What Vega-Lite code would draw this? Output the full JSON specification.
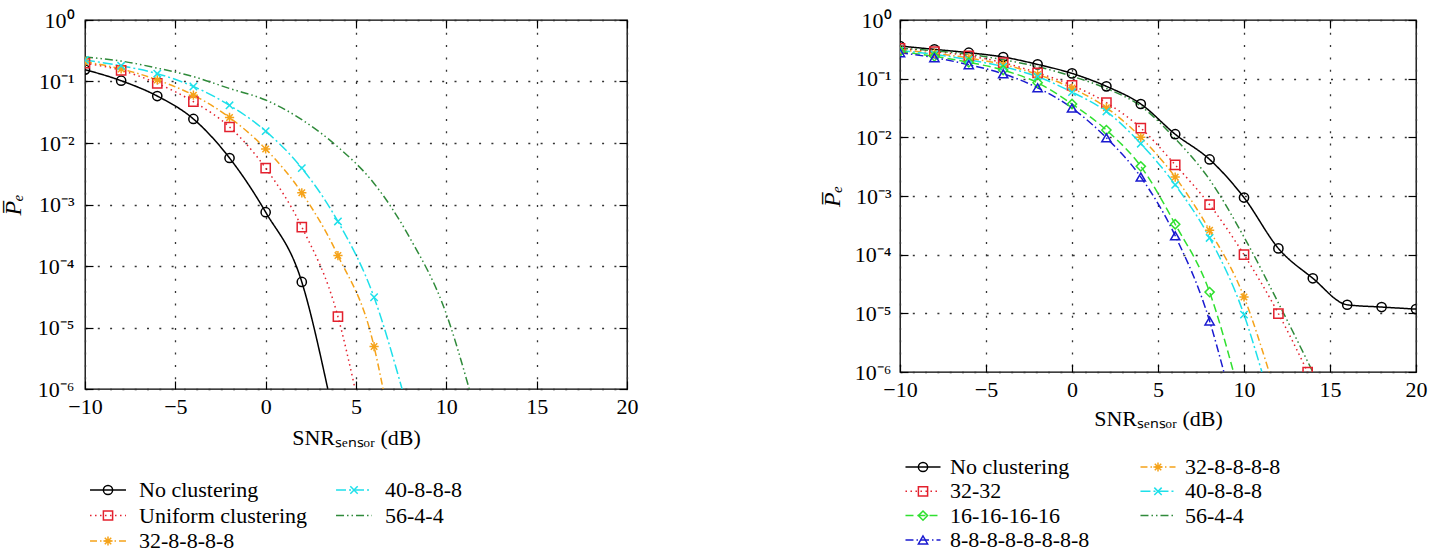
{
  "$schema": "https://vega.github.io/schema/vega-lite/v6.json",
  "background": "white",
  "padding": {"left": 0, "top": 8, "right": 5, "bottom": 0},
  "config": {"font": "Liberation Serif", "axis": {"labelFont": "Liberation Serif", "titleFont": "Liberation Serif", "labelFlush": false}, "legend": {"labelFont": "Liberation Serif"}, "view": {"stroke": "black", "strokeWidth": 1.3}},
  "datasets": {
    "lc": [
      {"series": "No clustering", "snr": -10, "pe": 0.156}, {"series": "No clustering", "snr": -8, "pe": 0.103}, {"series": "No clustering", "snr": -6, "pe": 0.058}, {"series": "No clustering", "snr": -4, "pe": 0.0246}, {"series": "No clustering", "snr": -2, "pe": 0.0057}, {"series": "No clustering", "snr": 0, "pe": 0.00075}, {"series": "No clustering", "snr": 2, "pe": 0.000055}, {"series": "No clustering", "snr": 3.44, "pe": 0.000001},
      {"series": "Uniform clustering", "snr": -10, "pe": 0.198}, {"series": "Uniform clustering", "snr": -8, "pe": 0.152}, {"series": "Uniform clustering", "snr": -6, "pe": 0.093}, {"series": "Uniform clustering", "snr": -4, "pe": 0.047}, {"series": "Uniform clustering", "snr": -2, "pe": 0.0182}, {"series": "Uniform clustering", "snr": 0, "pe": 0.0039}, {"series": "Uniform clustering", "snr": 2, "pe": 0.00043}, {"series": "Uniform clustering", "snr": 4, "pe": 0.000015}, {"series": "Uniform clustering", "snr": 4.95, "pe": 0.000001},
      {"series": "32-8-8-8-8", "snr": -10, "pe": 0.21}, {"series": "32-8-8-8-8", "snr": -8, "pe": 0.16}, {"series": "32-8-8-8-8", "snr": -6, "pe": 0.106}, {"series": "32-8-8-8-8", "snr": -4, "pe": 0.06}, {"series": "32-8-8-8-8", "snr": -2, "pe": 0.026}, {"series": "32-8-8-8-8", "snr": 0, "pe": 0.008}, {"series": "32-8-8-8-8", "snr": 2, "pe": 0.00155}, {"series": "32-8-8-8-8", "snr": 4, "pe": 0.000148}, {"series": "32-8-8-8-8", "snr": 6, "pe": 0.0000049}, {"series": "32-8-8-8-8", "snr": 6.5, "pe": 0.000001},
      {"series": "40-8-8-8", "snr": -10, "pe": 0.224}, {"series": "40-8-8-8", "snr": -8, "pe": 0.18}, {"series": "40-8-8-8", "snr": -6, "pe": 0.134}, {"series": "40-8-8-8", "snr": -4, "pe": 0.083}, {"series": "40-8-8-8", "snr": -2, "pe": 0.041}, {"series": "40-8-8-8", "snr": 0, "pe": 0.0156}, {"series": "40-8-8-8", "snr": 2, "pe": 0.0039}, {"series": "40-8-8-8", "snr": 4, "pe": 0.00053}, {"series": "40-8-8-8", "snr": 6, "pe": 0.000031}, {"series": "40-8-8-8", "snr": 7.55, "pe": 0.000001},
      {"series": "56-4-4", "snr": -10, "pe": 0.25}, {"series": "56-4-4", "snr": -8, "pe": 0.215}, {"series": "56-4-4", "snr": -6, "pe": 0.165}, {"series": "56-4-4", "snr": -4, "pe": 0.12}, {"series": "56-4-4", "snr": -2, "pe": 0.077}, {"series": "56-4-4", "snr": 0, "pe": 0.05}, {"series": "56-4-4", "snr": 2, "pe": 0.024}, {"series": "56-4-4", "snr": 4, "pe": 0.0086}, {"series": "56-4-4", "snr": 6, "pe": 0.0022}, {"series": "56-4-4", "snr": 8, "pe": 0.00028}, {"series": "56-4-4", "snr": 10, "pe": 0.0000166}, {"series": "56-4-4", "snr": 11.27, "pe": 0.000001}
    ],
    "lm": [
      {"series": "No clustering", "snr": -10, "pe": 0.156}, {"series": "No clustering", "snr": -8, "pe": 0.103}, {"series": "No clustering", "snr": -6, "pe": 0.058}, {"series": "No clustering", "snr": -4, "pe": 0.0246}, {"series": "No clustering", "snr": -2, "pe": 0.0057}, {"series": "No clustering", "snr": 0, "pe": 0.00075}, {"series": "No clustering", "snr": 2, "pe": 0.000055},
      {"series": "Uniform clustering", "snr": -10, "pe": 0.198}, {"series": "Uniform clustering", "snr": -8, "pe": 0.152}, {"series": "Uniform clustering", "snr": -6, "pe": 0.093}, {"series": "Uniform clustering", "snr": -4, "pe": 0.047}, {"series": "Uniform clustering", "snr": -2, "pe": 0.0182}, {"series": "Uniform clustering", "snr": 0, "pe": 0.0039}, {"series": "Uniform clustering", "snr": 2, "pe": 0.00043}, {"series": "Uniform clustering", "snr": 4, "pe": 0.000015},
      {"series": "32-8-8-8-8", "snr": -10, "pe": 0.21}, {"series": "32-8-8-8-8", "snr": -8, "pe": 0.16}, {"series": "32-8-8-8-8", "snr": -6, "pe": 0.106}, {"series": "32-8-8-8-8", "snr": -4, "pe": 0.06}, {"series": "32-8-8-8-8", "snr": -2, "pe": 0.026}, {"series": "32-8-8-8-8", "snr": 0, "pe": 0.008}, {"series": "32-8-8-8-8", "snr": 2, "pe": 0.00155}, {"series": "32-8-8-8-8", "snr": 4, "pe": 0.000148}, {"series": "32-8-8-8-8", "snr": 6, "pe": 0.0000049},
      {"series": "40-8-8-8", "snr": -10, "pe": 0.224}, {"series": "40-8-8-8", "snr": -8, "pe": 0.18}, {"series": "40-8-8-8", "snr": -6, "pe": 0.134}, {"series": "40-8-8-8", "snr": -4, "pe": 0.083}, {"series": "40-8-8-8", "snr": -2, "pe": 0.041}, {"series": "40-8-8-8", "snr": 0, "pe": 0.0156}, {"series": "40-8-8-8", "snr": 2, "pe": 0.0039}, {"series": "40-8-8-8", "snr": 4, "pe": 0.00053}, {"series": "40-8-8-8", "snr": 6, "pe": 0.000031}
    ],
    "rc": [
      {"series": "No clustering", "snr": -10, "pe": 0.36}, {"series": "No clustering", "snr": -8, "pe": 0.316}, {"series": "No clustering", "snr": -6, "pe": 0.277}, {"series": "No clustering", "snr": -4, "pe": 0.234}, {"series": "No clustering", "snr": -2, "pe": 0.175}, {"series": "No clustering", "snr": 0, "pe": 0.123}, {"series": "No clustering", "snr": 2, "pe": 0.074}, {"series": "No clustering", "snr": 4, "pe": 0.037}, {"series": "No clustering", "snr": 6, "pe": 0.0113}, {"series": "No clustering", "snr": 8, "pe": 0.0042}, {"series": "No clustering", "snr": 10, "pe": 0.00094}, {"series": "No clustering", "snr": 12, "pe": 0.000128}, {"series": "No clustering", "snr": 14, "pe": 0.0000396}, {"series": "No clustering", "snr": 16, "pe": 0.000014}, {"series": "No clustering", "snr": 18, "pe": 0.0000128}, {"series": "No clustering", "snr": 20, "pe": 0.0000118},
      {"series": "32-32", "snr": -10, "pe": 0.33}, {"series": "32-32", "snr": -8, "pe": 0.29}, {"series": "32-32", "snr": -6, "pe": 0.245}, {"series": "32-32", "snr": -4, "pe": 0.187}, {"series": "32-32", "snr": -2, "pe": 0.126}, {"series": "32-32", "snr": 0, "pe": 0.077}, {"series": "32-32", "snr": 2, "pe": 0.039}, {"series": "32-32", "snr": 4, "pe": 0.0144}, {"series": "32-32", "snr": 6, "pe": 0.0034}, {"series": "32-32", "snr": 8, "pe": 0.00071}, {"series": "32-32", "snr": 10, "pe": 0.0001}, {"series": "32-32", "snr": 12, "pe": 0.0000099}, {"series": "32-32", "snr": 13.7, "pe": 0.000001},
      {"series": "32-8-8-8-8", "snr": -10, "pe": 0.31}, {"series": "32-8-8-8-8", "snr": -8, "pe": 0.27}, {"series": "32-8-8-8-8", "snr": -6, "pe": 0.225}, {"series": "32-8-8-8-8", "snr": -4, "pe": 0.175}, {"series": "32-8-8-8-8", "snr": -2, "pe": 0.118}, {"series": "32-8-8-8-8", "snr": 0, "pe": 0.069}, {"series": "32-8-8-8-8", "snr": 2, "pe": 0.032}, {"series": "32-8-8-8-8", "snr": 4, "pe": 0.01}, {"series": "32-8-8-8-8", "snr": 6, "pe": 0.0021}, {"series": "32-8-8-8-8", "snr": 8, "pe": 0.00026}, {"series": "32-8-8-8-8", "snr": 10, "pe": 0.000019}, {"series": "32-8-8-8-8", "snr": 11.46, "pe": 0.000001},
      {"series": "40-8-8-8", "snr": -10, "pe": 0.3}, {"series": "40-8-8-8", "snr": -8, "pe": 0.26}, {"series": "40-8-8-8", "snr": -6, "pe": 0.21}, {"series": "40-8-8-8", "snr": -4, "pe": 0.16}, {"series": "40-8-8-8", "snr": -2, "pe": 0.108}, {"series": "40-8-8-8", "snr": 0, "pe": 0.059}, {"series": "40-8-8-8", "snr": 2, "pe": 0.0276}, {"series": "40-8-8-8", "snr": 4, "pe": 0.0078}, {"series": "40-8-8-8", "snr": 6, "pe": 0.00155}, {"series": "40-8-8-8", "snr": 8, "pe": 0.000193}, {"series": "40-8-8-8", "snr": 10, "pe": 0.0000095}, {"series": "40-8-8-8", "snr": 11.04, "pe": 0.000001},
      {"series": "16-16-16-16", "snr": -10, "pe": 0.29}, {"series": "16-16-16-16", "snr": -8, "pe": 0.24}, {"series": "16-16-16-16", "snr": -6, "pe": 0.19}, {"series": "16-16-16-16", "snr": -4, "pe": 0.14}, {"series": "16-16-16-16", "snr": -2, "pe": 0.085}, {"series": "16-16-16-16", "snr": 0, "pe": 0.037}, {"series": "16-16-16-16", "snr": 2, "pe": 0.0133}, {"series": "16-16-16-16", "snr": 4, "pe": 0.0032}, {"series": "16-16-16-16", "snr": 6, "pe": 0.00033}, {"series": "16-16-16-16", "snr": 8, "pe": 0.000023}, {"series": "16-16-16-16", "snr": 9.39, "pe": 0.000001},
      {"series": "8-8-8-8-8-8-8-8", "snr": -10, "pe": 0.277}, {"series": "8-8-8-8-8-8-8-8", "snr": -8, "pe": 0.228}, {"series": "8-8-8-8-8-8-8-8", "snr": -6, "pe": 0.173}, {"series": "8-8-8-8-8-8-8-8", "snr": -4, "pe": 0.121}, {"series": "8-8-8-8-8-8-8-8", "snr": -2, "pe": 0.07}, {"series": "8-8-8-8-8-8-8-8", "snr": 0, "pe": 0.0315}, {"series": "8-8-8-8-8-8-8-8", "snr": 2, "pe": 0.0098}, {"series": "8-8-8-8-8-8-8-8", "snr": 4, "pe": 0.0021}, {"series": "8-8-8-8-8-8-8-8", "snr": 6, "pe": 0.00021}, {"series": "8-8-8-8-8-8-8-8", "snr": 8, "pe": 0.0000074}, {"series": "8-8-8-8-8-8-8-8", "snr": 8.83, "pe": 0.000001},
      {"series": "56-4-4", "snr": -10, "pe": 0.33}, {"series": "56-4-4", "snr": -8, "pe": 0.3}, {"series": "56-4-4", "snr": -6, "pe": 0.26}, {"series": "56-4-4", "snr": -4, "pe": 0.21}, {"series": "56-4-4", "snr": -2, "pe": 0.16}, {"series": "56-4-4", "snr": 0, "pe": 0.11}, {"series": "56-4-4", "snr": 2, "pe": 0.068}, {"series": "56-4-4", "snr": 4, "pe": 0.034}, {"series": "56-4-4", "snr": 6, "pe": 0.0095}, {"series": "56-4-4", "snr": 8, "pe": 0.0019}, {"series": "56-4-4", "snr": 10, "pe": 0.0002}, {"series": "56-4-4", "snr": 12, "pe": 0.000015}, {"series": "56-4-4", "snr": 14, "pe": 0.000001}
    ],
    "rm": [
      {"series": "No clustering", "snr": -10, "pe": 0.36}, {"series": "No clustering", "snr": -8, "pe": 0.316}, {"series": "No clustering", "snr": -6, "pe": 0.277}, {"series": "No clustering", "snr": -4, "pe": 0.234}, {"series": "No clustering", "snr": -2, "pe": 0.175}, {"series": "No clustering", "snr": 0, "pe": 0.123}, {"series": "No clustering", "snr": 2, "pe": 0.074}, {"series": "No clustering", "snr": 4, "pe": 0.037}, {"series": "No clustering", "snr": 6, "pe": 0.0113}, {"series": "No clustering", "snr": 8, "pe": 0.0042}, {"series": "No clustering", "snr": 10, "pe": 0.00094}, {"series": "No clustering", "snr": 12, "pe": 0.000128}, {"series": "No clustering", "snr": 14, "pe": 0.0000396}, {"series": "No clustering", "snr": 16, "pe": 0.000014}, {"series": "No clustering", "snr": 18, "pe": 0.0000128}, {"series": "No clustering", "snr": 20, "pe": 0.0000118},
      {"series": "32-32", "snr": -10, "pe": 0.33}, {"series": "32-32", "snr": -8, "pe": 0.29}, {"series": "32-32", "snr": -6, "pe": 0.245}, {"series": "32-32", "snr": -4, "pe": 0.187}, {"series": "32-32", "snr": -2, "pe": 0.126}, {"series": "32-32", "snr": 0, "pe": 0.077}, {"series": "32-32", "snr": 2, "pe": 0.039}, {"series": "32-32", "snr": 4, "pe": 0.0144}, {"series": "32-32", "snr": 6, "pe": 0.0034}, {"series": "32-32", "snr": 8, "pe": 0.00071}, {"series": "32-32", "snr": 10, "pe": 0.0001}, {"series": "32-32", "snr": 12, "pe": 0.0000099}, {"series": "32-32", "snr": 13.7, "pe": 0.000001},
      {"series": "32-8-8-8-8", "snr": -10, "pe": 0.31}, {"series": "32-8-8-8-8", "snr": -8, "pe": 0.27}, {"series": "32-8-8-8-8", "snr": -6, "pe": 0.225}, {"series": "32-8-8-8-8", "snr": -4, "pe": 0.175}, {"series": "32-8-8-8-8", "snr": -2, "pe": 0.118}, {"series": "32-8-8-8-8", "snr": 0, "pe": 0.069}, {"series": "32-8-8-8-8", "snr": 2, "pe": 0.032}, {"series": "32-8-8-8-8", "snr": 4, "pe": 0.01}, {"series": "32-8-8-8-8", "snr": 6, "pe": 0.0021}, {"series": "32-8-8-8-8", "snr": 8, "pe": 0.00026}, {"series": "32-8-8-8-8", "snr": 10, "pe": 0.000019},
      {"series": "40-8-8-8", "snr": -10, "pe": 0.3}, {"series": "40-8-8-8", "snr": -8, "pe": 0.26}, {"series": "40-8-8-8", "snr": -6, "pe": 0.21}, {"series": "40-8-8-8", "snr": -4, "pe": 0.16}, {"series": "40-8-8-8", "snr": -2, "pe": 0.108}, {"series": "40-8-8-8", "snr": 0, "pe": 0.059}, {"series": "40-8-8-8", "snr": 2, "pe": 0.0276}, {"series": "40-8-8-8", "snr": 4, "pe": 0.0078}, {"series": "40-8-8-8", "snr": 6, "pe": 0.00155}, {"series": "40-8-8-8", "snr": 8, "pe": 0.000193}, {"series": "40-8-8-8", "snr": 10, "pe": 0.0000095},
      {"series": "16-16-16-16", "snr": -10, "pe": 0.29}, {"series": "16-16-16-16", "snr": -8, "pe": 0.24}, {"series": "16-16-16-16", "snr": -6, "pe": 0.19}, {"series": "16-16-16-16", "snr": -4, "pe": 0.14}, {"series": "16-16-16-16", "snr": -2, "pe": 0.085}, {"series": "16-16-16-16", "snr": 0, "pe": 0.037}, {"series": "16-16-16-16", "snr": 2, "pe": 0.0133}, {"series": "16-16-16-16", "snr": 4, "pe": 0.0032}, {"series": "16-16-16-16", "snr": 6, "pe": 0.00033}, {"series": "16-16-16-16", "snr": 8, "pe": 0.000023},
      {"series": "8-8-8-8-8-8-8-8", "snr": -10, "pe": 0.277}, {"series": "8-8-8-8-8-8-8-8", "snr": -8, "pe": 0.228}, {"series": "8-8-8-8-8-8-8-8", "snr": -6, "pe": 0.173}, {"series": "8-8-8-8-8-8-8-8", "snr": -4, "pe": 0.121}, {"series": "8-8-8-8-8-8-8-8", "snr": -2, "pe": 0.07}, {"series": "8-8-8-8-8-8-8-8", "snr": 0, "pe": 0.0315}, {"series": "8-8-8-8-8-8-8-8", "snr": 2, "pe": 0.0098}, {"series": "8-8-8-8-8-8-8-8", "snr": 4, "pe": 0.0021}, {"series": "8-8-8-8-8-8-8-8", "snr": 6, "pe": 0.00021}, {"series": "8-8-8-8-8-8-8-8", "snr": 8, "pe": 0.0000074}
    ]
  },
  "spacing": 180,
  "resolve": {"scale": {"color": "independent", "shape": "independent", "strokeDash": "independent"}},
  "hconcat": [
    {
      "width": 542,
      "height": 369,
      "resolve": {"scale": {"color": "independent", "shape": "independent", "strokeDash": "independent"}, "axis": {"x": "independent", "y": "independent"}},
      "layer": [
        {
          "data": {"name": "lc"},
          "mark": {"type": "line", "clip": true, "strokeWidth": 1.5, "interpolate": "monotone"},
          "encoding": {
            "x": {"field": "snr", "type": "quantitative", "scale": {"domain": [-10, 20], "nice": false},
              "axis": {"orient": "bottom", "values": [-10, -5, 0, 5, 10, 15, 20], "labelFlush": false, "title": "SNRₛₑₙₛₒᵣ (dB)", "titleFontSize": 22, "titleFontWeight": "normal", "titleColor": "black", "titlePadding": 10, "labelFontSize": 22, "labelColor": "black", "labelPadding": 15, "tickSize": -8, "tickColor": "black", "tickWidth": 1.2, "domain": false, "grid": true, "gridColor": "#333", "gridDash": [2, 10.3], "gridWidth": 1.3}},
            "y": {"field": "pe", "type": "quantitative", "scale": {"type": "log", "domain": [0.000001, 1], "nice": false},
              "axis": {"orient": "left", "values": [0.000001, 0.00001, 0.0001, 0.001, 0.01, 0.1, 1], "labelFlush": false, "labelExpr": "'10' + ['⁰','⁻¹','⁻²','⁻³','⁻⁴','⁻⁵','⁻⁶'][round(-log(datum.value)/LN10)]", "title": "P̅ₑ", "titleFontSize": 24, "titleFontStyle": "italic", "titleFontWeight": "normal", "titleColor": "black", "titlePadding": 12, "labelFontSize": 22, "labelColor": "black", "labelPadding": 19, "tickSize": -8, "tickColor": "black", "tickWidth": 1.2, "domain": false, "grid": true, "gridColor": "#333", "gridDash": [2, 10.3], "gridWidth": 1.3}},
            "color": {"field": "series", "type": "nominal",
              "scale": {"domain": ["No clustering", "Uniform clustering", "32-8-8-8-8", "40-8-8-8", "56-4-4"], "range": ["#000000", "#e3202d", "#f5a31a", "#1ee0ea", "#2f8a3a"]},
              "legend": {"orient": "none", "legendX": 0, "legendY": 459, "columns": 2, "title": null, "symbolType": "M-3.9,0L3.9,0", "symbolSize": 85, "symbolOffset": 12, "symbolStrokeWidth": 1.5, "labelFontSize": 22, "labelColor": "black", "labelOffset": 20, "columnPadding": 23, "rowPadding": 3.5, "labelLimit": 400, "padding": 0}},
            "strokeDash": {"field": "series", "type": "nominal",
              "scale": {"domain": ["No clustering", "Uniform clustering", "32-8-8-8-8", "40-8-8-8", "56-4-4"], "range": [[1, 0], [1.5, 3.5], [7, 3, 1.5, 3], [10, 3, 2, 3], [8, 3, 1.5, 3, 1.5, 3]]},
              "legend": {"orient": "none", "legendX": 0, "legendY": 459, "columns": 2, "title": null, "symbolType": "M-3.9,0L3.9,0", "symbolSize": 85, "symbolOffset": 12, "symbolStrokeWidth": 1.5, "labelFontSize": 22, "labelColor": "black", "labelOffset": 20, "columnPadding": 23, "rowPadding": 3.5, "labelLimit": 400, "padding": 0}}
          }
        },
        {
          "data": {"name": "lm"},
          "mark": {"type": "point", "filled": false, "strokeWidth": 1.5, "size": 85, "clip": true, "opacity": 1},
          "encoding": {
            "x": {"field": "snr", "type": "quantitative", "axis": {"orient": "top", "values": [-10, -5, 0, 5, 10, 15, 20], "labels": false, "title": null, "tickSize": -8, "tickColor": "black", "tickWidth": 1.2, "domain": false, "grid": false}},
            "y": {"field": "pe", "type": "quantitative", "axis": {"orient": "right", "values": [0.000001, 0.00001, 0.0001, 0.001, 0.01, 0.1, 1], "labels": false, "title": null, "tickSize": -8, "tickColor": "black", "tickWidth": 1.2, "domain": false, "grid": false}},
            "color": {"field": "series", "type": "nominal",
              "scale": {"domain": ["No clustering", "Uniform clustering", "32-8-8-8-8", "40-8-8-8", "56-4-4"], "range": ["#000000", "#e3202d", "#f5a31a", "#1ee0ea", "#2f8a3a"]},
              "legend": {"orient": "none", "legendX": 0, "legendY": 459, "columns": 2, "title": null, "symbolSize": 85, "symbolOffset": 12, "symbolStrokeWidth": 1.5, "labelFontSize": 22, "labelColor": "rgba(0,0,0,0)", "labelOffset": 20, "columnPadding": 23, "rowPadding": 3.5, "labelLimit": 400, "padding": 0}},
            "shape": {"field": "series", "type": "nominal",
              "scale": {"domain": ["No clustering", "Uniform clustering", "32-8-8-8-8", "40-8-8-8", "56-4-4"], "range": ["circle", "square", "M-1,0L1,0M0,-1L0,1M-0.7,-0.7L0.7,0.7M-0.7,0.7L0.7,-0.7", "M-0.8,-0.8L0.8,0.8M-0.8,0.8L0.8,-0.8", "M0,0"]},
              "legend": {"orient": "none", "legendX": 0, "legendY": 459, "columns": 2, "title": null, "symbolSize": 85, "symbolOffset": 12, "symbolStrokeWidth": 1.5, "labelFontSize": 22, "labelColor": "rgba(0,0,0,0)", "labelOffset": 20, "columnPadding": 23, "rowPadding": 3.5, "labelLimit": 400, "padding": 0}}
          }
        }
      ]
    },
    {
      "width": 516,
      "height": 352,
      "resolve": {"scale": {"color": "independent", "shape": "independent", "strokeDash": "independent"}, "axis": {"x": "independent", "y": "independent"}},
      "layer": [
        {
          "data": {"name": "rc"},
          "mark": {"type": "line", "clip": true, "strokeWidth": 1.5, "interpolate": "monotone"},
          "encoding": {
            "x": {"field": "snr", "type": "quantitative", "scale": {"domain": [-10, 20], "nice": false},
              "axis": {"orient": "bottom", "values": [-10, -5, 0, 5, 10, 15, 20], "labelFlush": false, "title": "SNRₛₑₙₛₒᵣ (dB)", "titleFontSize": 22, "titleFontWeight": "normal", "titleColor": "black", "titlePadding": 8, "labelFontSize": 22, "labelColor": "black", "labelPadding": 15, "tickSize": -8, "tickColor": "black", "tickWidth": 1.2, "domain": false, "grid": true, "gridColor": "#333", "gridDash": [2, 10.3], "gridWidth": 1.3}},
            "y": {"field": "pe", "type": "quantitative", "scale": {"type": "log", "domain": [0.000001, 1], "nice": false},
              "axis": {"orient": "left", "values": [0.000001, 0.00001, 0.0001, 0.001, 0.01, 0.1, 1], "labelFlush": false, "labelExpr": "'10' + ['⁰','⁻¹','⁻²','⁻³','⁻⁴','⁻⁵','⁻⁶'][round(-log(datum.value)/LN10)]", "title": "P̅ₑ", "titleFontSize": 24, "titleFontStyle": "italic", "titleFontWeight": "normal", "titleColor": "black", "titlePadding": 10, "labelFontSize": 22, "labelColor": "black", "labelPadding": 17, "tickSize": -8, "tickColor": "black", "tickWidth": 1.2, "domain": false, "grid": true, "gridColor": "#333", "gridDash": [2, 10.3], "gridWidth": 1.3}},
            "color": {"field": "series", "type": "nominal",
              "scale": {"domain": ["No clustering", "32-32", "16-16-16-16", "8-8-8-8-8-8-8-8", "32-8-8-8-8", "40-8-8-8", "56-4-4"], "range": ["#000000", "#e3202d", "#30e030", "#1a1ad0", "#f5a31a", "#1ee0ea", "#2f8a3a"]},
              "legend": {"orient": "none", "legendX": 0, "legendY": 436, "columns": 2, "title": null, "symbolType": "M-3.8,0L3.8,0", "symbolSize": 85, "symbolOffset": 12, "symbolStrokeWidth": 1.5, "labelFontSize": 22, "labelColor": "black", "labelOffset": 16, "columnPadding": 45, "rowPadding": 2.3, "labelLimit": 400, "padding": 0}},
            "strokeDash": {"field": "series", "type": "nominal",
              "scale": {"domain": ["No clustering", "32-32", "16-16-16-16", "8-8-8-8-8-8-8-8", "32-8-8-8-8", "40-8-8-8", "56-4-4"], "range": [[1, 0], [1.5, 3.5], [8, 4], [8, 3, 1.5, 3], [7, 3, 1.5, 3], [10, 3, 2, 3], [8, 3, 1.5, 3, 1.5, 3]]},
              "legend": {"orient": "none", "legendX": 0, "legendY": 436, "columns": 2, "title": null, "symbolType": "M-3.8,0L3.8,0", "symbolSize": 85, "symbolOffset": 12, "symbolStrokeWidth": 1.5, "labelFontSize": 22, "labelColor": "black", "labelOffset": 16, "columnPadding": 45, "rowPadding": 2.3, "labelLimit": 400, "padding": 0}}
          }
        },
        {
          "data": {"name": "rm"},
          "mark": {"type": "point", "filled": false, "strokeWidth": 1.5, "size": 85, "clip": true, "opacity": 1},
          "encoding": {
            "x": {"field": "snr", "type": "quantitative", "axis": {"orient": "top", "values": [-10, -5, 0, 5, 10, 15, 20], "labels": false, "title": null, "tickSize": -8, "tickColor": "black", "tickWidth": 1.2, "domain": false, "grid": false}},
            "y": {"field": "pe", "type": "quantitative", "axis": {"orient": "right", "values": [0.000001, 0.00001, 0.0001, 0.001, 0.01, 0.1, 1], "labels": false, "title": null, "tickSize": -8, "tickColor": "black", "tickWidth": 1.2, "domain": false, "grid": false}},
            "color": {"field": "series", "type": "nominal",
              "scale": {"domain": ["No clustering", "32-32", "16-16-16-16", "8-8-8-8-8-8-8-8", "32-8-8-8-8", "40-8-8-8", "56-4-4"], "range": ["#000000", "#e3202d", "#30e030", "#1a1ad0", "#f5a31a", "#1ee0ea", "#2f8a3a"]},
              "legend": {"orient": "none", "legendX": 0, "legendY": 436, "columns": 2, "title": null, "symbolSize": 85, "symbolOffset": 12, "symbolStrokeWidth": 1.5, "labelFontSize": 22, "labelColor": "rgba(0,0,0,0)", "labelOffset": 16, "columnPadding": 45, "rowPadding": 2.3, "labelLimit": 400, "padding": 0}},
            "shape": {"field": "series", "type": "nominal",
              "scale": {"domain": ["No clustering", "32-32", "16-16-16-16", "8-8-8-8-8-8-8-8", "32-8-8-8-8", "40-8-8-8", "56-4-4"], "range": ["circle", "square", "diamond", "triangle-up", "M-1,0L1,0M0,-1L0,1M-0.7,-0.7L0.7,0.7M-0.7,0.7L0.7,-0.7", "M-0.8,-0.8L0.8,0.8M-0.8,0.8L0.8,-0.8", "M0,0"]},
              "legend": {"orient": "none", "legendX": 0, "legendY": 436, "columns": 2, "title": null, "symbolSize": 85, "symbolOffset": 12, "symbolStrokeWidth": 1.5, "labelFontSize": 22, "labelColor": "rgba(0,0,0,0)", "labelOffset": 16, "columnPadding": 45, "rowPadding": 2.3, "labelLimit": 400, "padding": 0}}
          }
        }
      ]
    }
  ]
}
